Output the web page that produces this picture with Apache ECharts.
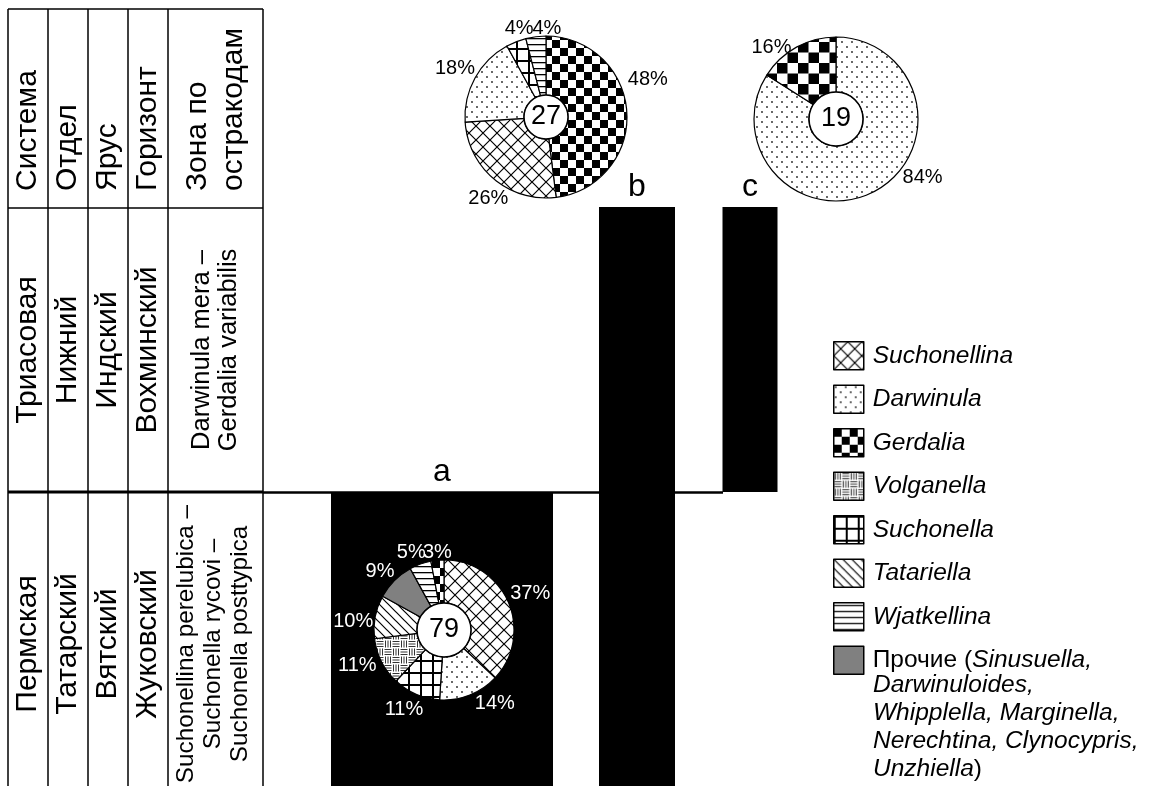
<!DOCTYPE html>
<html><head><meta charset="utf-8">
<script src="https://cdn.jsdelivr.net/npm/echarts@6/dist/echarts.min.js"></script>
<style>html,body{margin:0;padding:0;background:#fff}#c{width:1149px;height:786px}</style>
</head><body><div id="c"></div>
<script>
// ---------------- DATA ----------------
const taxa = ['Suchonellina','Darwinula','Gerdalia','Volganella','Suchonella','Tatariella','Wjatkellina','Прочие'];
const sectionNames = ['a','b','c'];
const sectionCounts = [79, 27, 19];
// composition of each section, clockwise from 12 o'clock
const pieATaxa = ['Suchonellina','Darwinula','Suchonella','Volganella','Tatariella','Прочие','Wjatkellina','Gerdalia'];
const pieAValues = [37, 14, 11, 11, 10, 9, 5, 3];
const pieBTaxa = ['Gerdalia','Suchonellina','Darwinula','Suchonella','Wjatkellina'];
const pieBValues = [48, 26, 18, 4, 4];
const pieCTaxa = ['Darwinula','Gerdalia'];
const pieCValues = [84, 16];
// stratigraphic range of each section: 1 = Permian/Triassic boundary, 2 = top of the Vokhma horizon
const rangeLow = [-0.1, -0.1, 1];
const rangeHigh = [1, 2, 2];
const boundaryLevel = 1;
// stratigraphic table
const tableHeader = ['Система','Отдел','Ярус','Горизонт','Зона по\nостракодам'];
const triassicRow = ['Триасовая','Нижний','Индский','Вохминский','Darwinula mera –\nGerdalia variabilis'];
const permianRow = ['Пермская','Татарский','Вятский','Жуковский','Suchonellina perelubica –\nSuchonella rycovi –\nSuchonella posttypica'];
const othersList = ['Darwinuloides,','Whipplella, Marginella,','Nerechtina, Clynocypris,','Unzhiella'];

// ---------------- LAYOUT / STYLE ----------------
const FF = '"Liberation Sans", Arial, sans-serif';
const L = {
  colX: [8, 48, 88, 128, 168, 263],
  tableTop: 9, headerBottom: 208, boundaryY: 492, bottom: 786,
  headerTextY: 191, triassicMidY: 350, permianMidY: 644,
  barCenter: [442, 637, 750], barWidth: [222, 76, 55],
  pieCenter: [[444, 630], [546, 117], [836, 119]],
  pieR: [[27, 70], [22, 81], [27, 82]],
  lineEndX: 723
};
// label nudges [dx, dy, centred?] per slice (same order as the data arrays)
const labelNudge = [
  [[-3,-9],[0,8],[12,15],[0,4],[3,5],[5,-9],[-4,-12,1],[5,-8,1]],
  [[-4,-32],[19,19],[5,-9],[8,-13,1],[16,-8,1]],
  [[22,-13],[0,0]]
];
const patternScale = [1, 1, 1.3];

function tile(w, h, s, draw) {
  const c = document.createElement('canvas');
  c.width = Math.round(w * s); c.height = Math.round(h * s);
  const g = c.getContext('2d');
  g.fillStyle = '#fff'; g.fillRect(0, 0, c.width, c.height);
  g.scale(c.width / w, c.height / h);
  g.strokeStyle = '#000'; g.fillStyle = '#000';
  draw(g);
  return { image: c, repeat: 'repeat' };
}
function makePatterns(s) {
  return {
    'Suchonellina': tile(14, 14, s, g => { g.lineWidth = 1.2; g.beginPath(); g.moveTo(0,0); g.lineTo(14,14); g.moveTo(14,0); g.lineTo(0,14); g.stroke(); }),
    'Darwinula': tile(10, 10, 1, g => { g.fillStyle = '#222'; g.beginPath(); g.arc(2,2,0.9,0,7); g.fill(); g.beginPath(); g.arc(7,7,0.9,0,7); g.fill(); }),
    'Gerdalia': tile(16, 16, s, g => { g.fillRect(0,0,8,8); g.fillRect(8,8,8,8); }),
    'Volganella': tile(16, 16, s, g => {
      g.lineWidth = 1; g.strokeStyle = '#333'; g.beginPath();
      [1.5, 4, 6.5].forEach(v => {
        g.moveTo(v, 0.5); g.lineTo(v, 7.5); g.moveTo(8 + v, 8.5); g.lineTo(8 + v, 15.5);
        g.moveTo(8.5, v); g.lineTo(15.5, v); g.moveTo(0.5, 8 + v); g.lineTo(7.5, 8 + v);
      });
      g.stroke();
    }),
    'Suchonella': tile(12, 12, s, g => { g.fillRect(0,0,12,2); g.fillRect(0,0,2,12); }),
    'Tatariella': tile(9, 9, s, g => { g.lineWidth = 1.2; g.beginPath(); g.moveTo(-1,-1); g.lineTo(10,10); g.moveTo(-1,8); g.lineTo(1,10); g.moveTo(8,-1); g.lineTo(10,1); g.stroke(); }),
    'Wjatkellina': tile(6, 6, 1, g => { g.fillRect(0,2,6,1.3); }),
    'Прочие': '#808080'
  };
}

function ring(idx, names, values, labelColor) {
  const nudges = labelNudge[idx];
  const pats = makePatterns(patternScale[idx]);
  return {
    type: 'pie', z: 5,
    center: L.pieCenter[idx], radius: L.pieR[idx],
    startAngle: 90, clockwise: true, avoidLabelOverlap: false,
    silent: true, animation: false,
    itemStyle: { borderColor: '#000', borderWidth: 1.2 },
    label: { show: true, position: 'outside', formatter: '{c}%', color: labelColor, fontSize: 20, fontFamily: FF },
    labelLine: { show: false, length: 0, length2: 0 },
    labelLayout: p => {
      const n = nudges[p.dataIndex] || [0, 0];
      const o = { dx: n[0], dy: n[1], hideOverlap: false };
      if (n[2]) { o.align = 'center'; o.verticalAlign = 'middle'; }
      return o;
    },
    emphasis: { disabled: true },
    data: names.map((n, i) => ({ name: n, value: values[i], itemStyle: { color: pats[n] } }))
  };
}
function core(idx) {
  return {
    type: 'pie', z: 6,
    center: L.pieCenter[idx], radius: [0, L.pieR[idx][0]],
    silent: true, animation: false,
    itemStyle: { color: '#fff', borderColor: '#000', borderWidth: 1.5 },
    label: { show: true, position: 'center', formatter: '{c}', color: '#000', fontSize: 27, fontFamily: FF },
    labelLine: { show: false },
    emphasis: { disabled: true },
    data: [{ name: 'n_' + sectionNames[idx], value: sectionCounts[idx] }]
  };
}

// table graphics
const graphics = [];
function line(x1, y1, x2, y2, w) {
  graphics.push({ type: 'line', shape: { x1, y1, x2, y2 }, style: { stroke: '#000', lineWidth: w }, silent: true });
}
L.colX.forEach(x => line(x, L.tableTop, x, L.bottom, 1.5));
line(L.colX[0], L.tableTop, L.colX[5], L.tableTop, 1.5);
line(L.colX[0], L.headerBottom, L.colX[5], L.headerBottom, 1.5);
line(L.colX[0], L.boundaryY, L.colX[5], L.boundaryY, 3);
function vtext(x, y, text, size, align, lh) {
  graphics.push({ type: 'text', x, y, rotation: Math.PI / 2, silent: true,
    style: { text, fill: '#000', font: size + 'px ' + FF, align, verticalAlign: 'middle', lineHeight: lh } });
}
for (let i = 0; i < 5; i++) {
  const cx = (L.colX[i] + L.colX[i + 1]) / 2;
  const zone = i === 4;
  vtext(cx, L.headerTextY, tableHeader[i], 30, 'left', zone ? 36 : 32);
  vtext(cx, L.triassicMidY, triassicRow[i], zone ? 25.5 : 30, 'center', 27);
  vtext(zone ? cx - 2 : cx, L.permianMidY, permianRow[i], zone ? 24.3 : 30, 'center', 27);
}
// continuation of the "Прочие" legend entry
graphics.push({ type: 'text', left: 873, top: 673, silent: true,
  style: { text: othersList.map((s, i) => i === othersList.length - 1 ? '{i|' + s + '}{n|)}' : '{i|' + s + '}').join('\n'),
    rich: { i: { fontStyle: 'italic', fontSize: 24.5, fontFamily: FF, lineHeight: 28, fill: '#000' },
            n: { fontSize: 24.5, fontFamily: FF, lineHeight: 28, fill: '#000' } } } });

const chart = echarts.init(document.getElementById('c'), null, { renderer: 'canvas' });
chart.setOption({
  backgroundColor: '#fff',
  animation: false,
  grid: { left: 0, right: 0, top: 207, height: 598.5, outerBoundsMode: 'none', containLabel: false },
  xAxis: { type: 'value', min: 0, max: 1149, show: false },
  yAxis: { type: 'value', min: -0.1, max: 2, show: false },
  legend: {
    orient: 'vertical', left: 833, top: 341, padding: 0,
    itemWidth: 30, itemHeight: 28, itemGap: 14, selectedMode: false,
    data: taxa.map(n => ({ name: n, icon: 'rect' })),
    itemStyle: { borderColor: '#000', borderWidth: 1.5 },
    textStyle: { fontSize: 24.5, fontFamily: FF, color: '#000', padding: [0, 0, 0, 4],
      rich: { i: { fontStyle: 'italic', fontSize: 24.5, fontFamily: FF, color: '#000' },
              n: { fontSize: 24.5, fontFamily: FF, color: '#000' } } },
    formatter: name => name === 'Прочие' ? '{n|Прочие (}{i|Sinusuella,}' : '{i|' + name + '}'
  },
  graphic: graphics,
  series: [
    {
      type: 'custom', z: 2, silent: true, clip: false,
      encode: { x: 0, y: [1, 2] },
      data: sectionNames.map((n, i) => [i, rangeLow[i], rangeHigh[i]]),
      renderItem: (params, api) => {
        const i = params.dataIndex;
        const c = L.barCenter[i], w = L.barWidth[i];
        const p0 = api.coord([c - w / 2, api.value(2)]);
        const p1 = api.coord([c + w / 2, api.value(1)]);
        return { type: 'group', children: [
          { type: 'rect', shape: { x: p0[0], y: p0[1], width: p1[0] - p0[0], height: p1[1] - p0[1] }, style: { fill: '#000' } },
          { type: 'text', x: (p0[0] + p1[0]) / 2, y: p0[1] - 4, style: { text: sectionNames[i], fill: '#000', font: '32px ' + FF, align: 'center', verticalAlign: 'bottom' } }
        ] };
      },
      markLine: {
        silent: true, symbol: 'none', animation: false,
        lineStyle: { color: '#000', width: 2.5, type: 'solid' }, label: { show: false },
        data: [[{ coord: [L.colX[5], boundaryLevel] }, { coord: [L.lineEndX, boundaryLevel] }]]
      }
    },
    ring(0, pieATaxa, pieAValues, '#fff'), core(0),
    ring(1, pieBTaxa, pieBValues, '#000'), core(1),
    ring(2, pieCTaxa, pieCValues, '#000'), core(2)
  ]
});
</script></body></html>
